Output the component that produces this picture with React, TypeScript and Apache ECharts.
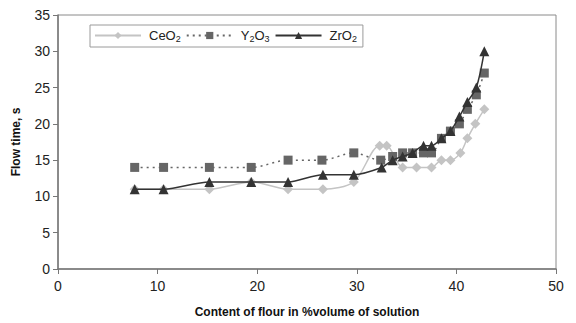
import React, { useEffect, useRef } from "react";
import * as echarts from "echarts";

const ceX = [7.7, 10.6, 15.2, 19.4, 23.1, 26.6, 29.7, 32.3, 33.0, 34.6, 36.0, 37.5, 38.5, 39.4, 40.4, 41.1, 41.9, 42.8];
const ceY = [11, 11, 11, 12, 11, 11, 12, 17, 17, 14, 14, 14, 15, 15, 16, 18, 20, 22];

const yX = [7.7, 10.6, 15.2, 19.4, 23.1, 26.5, 29.7, 32.4, 33.6, 34.6, 35.6, 36.7, 37.5, 38.5, 39.4, 40.3, 41.1, 42.0, 42.8];
const yY = [14, 14, 14, 14, 15, 15, 16, 15, 15.5, 16, 16, 16, 16, 18, 19, 20, 22, 24, 27];

const zrX = [7.7, 10.6, 15.2, 19.4, 23.1, 26.6, 29.7, 32.5, 33.6, 34.6, 35.6, 36.7, 37.5, 38.5, 39.4, 40.3, 41.1, 42.0, 42.8];
const zrY = [11, 11, 12, 12, 12, 13, 13, 14, 15, 15.5, 16, 17, 17, 18, 19, 21, 23, 25, 30];

const seriesNames = ["CeO2", "Y2O3", "ZrO2"];
const legendLabels: Record<string, string> = {
  CeO2: "CeO{sub|2}",
  Y2O3: "Y{sub|2}O{sub|3}",
  ZrO2: "ZrO{sub|2}",
};

const xTicks = [0, 10, 20, 30, 40, 50];
const yTicks = [0, 5, 10, 15, 20, 25, 30, 35];

const pairs = (xs: number[], ys: number[]) => xs.map((x, i) => [x, ys[i]]);

const FONT = "Liberation Sans, Arial, sans-serif";

export default function App() {
  const ref = useRef<HTMLDivElement>(null);
  useEffect(() => {
    if (!ref.current) return;
    const chart = echarts.init(ref.current, null, { renderer: "svg" });
    chart.setOption({
      animation: false,
      backgroundColor: "#ffffff",
      textStyle: { fontFamily: FONT },
      grid: { left: 58, right: 20, top: 15, bottom: 52, show: true, borderColor: "#8a8a8a", borderWidth: 1 },
      legend: {
        left: 90,
        top: 25,
        orient: "horizontal",
        data: seriesNames,
        itemWidth: 46,
        itemHeight: 9,
        itemGap: 5,
        padding: [4, 6, 4, 4],
        borderColor: "#9a9a9a",
        borderWidth: 1,
        borderRadius: 0,
        formatter: (n: string) => legendLabels[n] || n,
        textStyle: {
          fontFamily: FONT,
          fontSize: 13,
          color: "#222",
          padding: [0, 0, 0, 3],
          rich: {
            sub: { fontSize: 9, verticalAlign: "bottom", padding: [6, 0, 0, 0], fontFamily: FONT, color: "#222" },
          },
        },
      },
      xAxis: {
        type: "value",
        min: xTicks[0],
        max: xTicks[xTicks.length - 1],
        interval: 10,
        name: "Content of flour in %volume of solution",
        nameLocation: "middle",
        nameGap: 37,
        nameTextStyle: { fontFamily: FONT, fontSize: 12, fontWeight: "bold", color: "#111" },
        axisLine: { show: true, lineStyle: { color: "#777", width: 1.5 } },
        axisTick: { show: true, length: 5, lineStyle: { color: "#777" } },
        axisLabel: { fontFamily: FONT, fontSize: 14, color: "#222", margin: 10 },
        splitLine: { show: false },
      },
      yAxis: {
        type: "value",
        min: yTicks[0],
        max: yTicks[yTicks.length - 1],
        interval: 5,
        name: "Flow time, s",
        nameLocation: "middle",
        nameGap: 36,
        nameTextStyle: { fontFamily: FONT, fontSize: 12, fontWeight: "bold", color: "#111" },
        axisLine: { show: true, lineStyle: { color: "#777", width: 1.5 } },
        axisTick: { show: true, length: 5, lineStyle: { color: "#777" } },
        axisLabel: { fontFamily: FONT, fontSize: 14, color: "#222", margin: 8 },
        splitLine: { show: false },
      },
      series: [
        {
          name: "CeO2",
          type: "line",
          data: pairs(ceX, ceY),
          smooth: 0.3,
          symbol: "diamond",
          symbolSize: 10,
          itemStyle: { color: "#c4c4c4" },
          lineStyle: { color: "#c4c4c4", width: 1.5 },
          z: 2,
        },
        {
          name: "Y2O3",
          type: "line",
          data: pairs(yX, yY),
          smooth: 0.3,
          symbol: "rect",
          symbolSize: 9,
          itemStyle: { color: "#666666" },
          lineStyle: { color: "#666666", width: 1.5, type: [2, 4] },
          z: 3,
        },
        {
          name: "ZrO2",
          type: "line",
          data: pairs(zrX, zrY),
          smooth: 0.3,
          symbol: "triangle",
          symbolSize: 10,
          itemStyle: { color: "#333333" },
          lineStyle: { color: "#333333", width: 1.5 },
          z: 4,
        },
      ],
    });
    return () => chart.dispose();
  }, []);
  return <div ref={ref} style={{ position: "fixed", left: 0, top: 0, width: 576, height: 323 }} />;
}
